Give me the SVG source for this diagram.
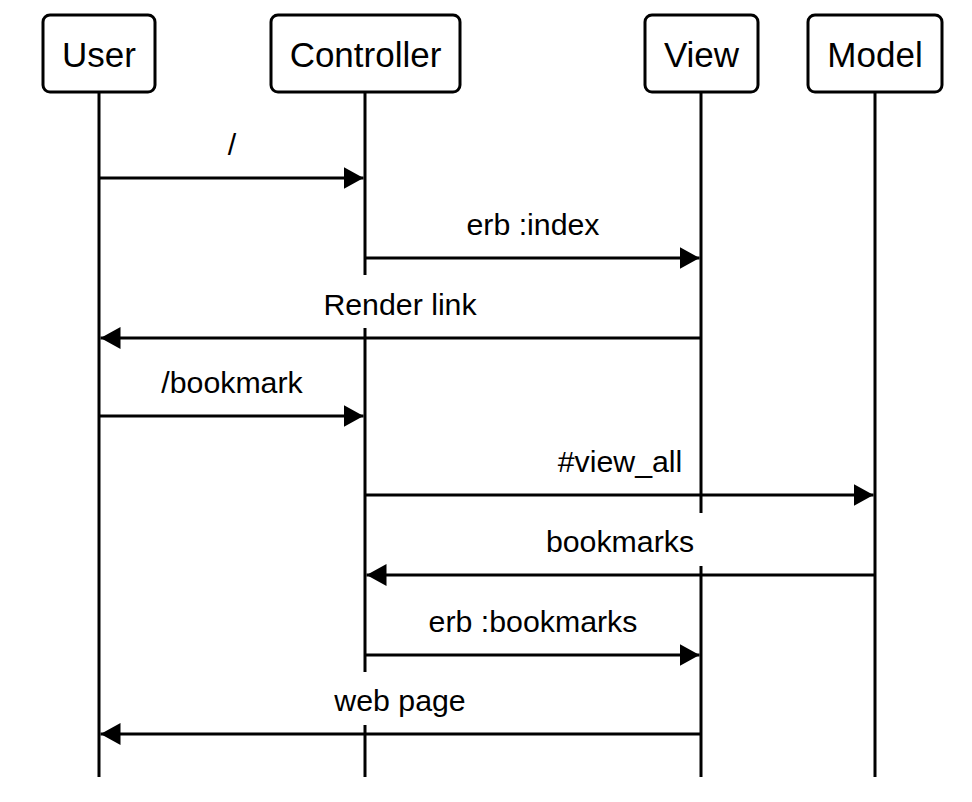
<svg xmlns="http://www.w3.org/2000/svg" width="972" height="802" viewBox="0 0 972 802">
<style>
.box{fill:#fff;stroke:#000;stroke-width:3}
.life{stroke:#000;stroke-width:3;fill:none}
.name{font-family:"Liberation Sans",Arial,sans-serif;font-size:35px;fill:#000;text-anchor:middle}
.msg{stroke:#000;stroke-width:3;fill:none}
.lbl{font-family:"Liberation Sans",Arial,sans-serif;font-size:30.3px;fill:#000;text-anchor:middle}
.bg{fill:#fff;stroke:none}
</style>
<defs>
<marker id="ah" markerUnits="userSpaceOnUse" markerWidth="20" markerHeight="22" refX="20" refY="11" orient="auto">
<path d="M0,0 L20,11 L0,22 Z" fill="#000"/>
</marker>
</defs>
<rect width="972" height="802" fill="#fff"/>
<g id="user">
<line class="life" x1="99" y1="92" x2="99" y2="777"/>
<rect class="box" x="43" y="15" width="112" height="77" rx="7"/>
<text class="name" x="99" y="67">User</text>
</g>
<g id="controller">
<line class="life" x1="365" y1="92" x2="365" y2="777"/>
<rect class="box" x="271" y="15" width="189" height="77" rx="7"/>
<text class="name" x="365.5" y="67">Controller</text>
</g>
<g id="view">
<line class="life" x1="701" y1="92" x2="701" y2="777"/>
<rect class="box" x="645" y="15" width="113" height="77" rx="7"/>
<text class="name" x="701.5" y="67">View</text>
</g>
<g id="model">
<line class="life" x1="875" y1="92" x2="875" y2="777"/>
<rect class="box" x="808" y="15" width="134" height="77" rx="7"/>
<text class="name" x="875" y="67">Model</text>
</g>
<g id="connectors">
<rect class="bg" x="310" y="275" width="180" height="53"/>
<rect class="bg" x="535" y="513" width="172" height="53"/>
<rect class="bg" x="325" y="672" width="150" height="53"/>
<line class="msg" x1="99" y1="178" x2="363.5" y2="178" marker-end="url(#ah)"/>
<text class="lbl" x="232" y="155">/</text>
<line class="msg" x1="365" y1="258" x2="699.5" y2="258" marker-end="url(#ah)"/>
<text class="lbl" x="533" y="235">erb :index</text>
<line class="msg" x1="701" y1="338" x2="100.5" y2="338" marker-end="url(#ah)"/>
<text class="lbl" x="400" y="315">Render link</text>
<line class="msg" x1="99" y1="416" x2="363.5" y2="416" marker-end="url(#ah)"/>
<text class="lbl" x="232" y="393">/bookmark</text>
<line class="msg" x1="365" y1="495" x2="873.5" y2="495" marker-end="url(#ah)"/>
<text class="lbl" x="620" y="472">#view_all</text>
<line class="msg" x1="875" y1="575" x2="366.5" y2="575" marker-end="url(#ah)"/>
<text class="lbl" x="620" y="552">bookmarks</text>
<line class="msg" x1="365" y1="655" x2="699.5" y2="655" marker-end="url(#ah)"/>
<text class="lbl" x="533" y="632">erb :bookmarks</text>
<line class="msg" x1="701" y1="734" x2="100.5" y2="734" marker-end="url(#ah)"/>
<text class="lbl" x="400" y="711">web page</text>
</g>
</svg>
